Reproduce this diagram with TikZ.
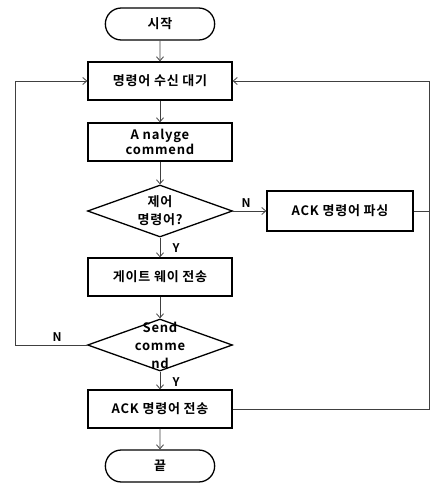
\documentclass[tikz,border=0pt]{standalone}
\usepackage{fontspec}
\setmainfont{Noto Sans CJK KR}[BoldFont={Noto Sans CJK KR Bold},LetterSpace=6]
\usetikzlibrary{shapes.geometric,shapes.misc,arrows.meta}

\begin{document}
\begin{tikzpicture}[x=1pt,y=-1pt,
        font=\bfseries\fontsize{13}{15}\selectfont,
        box/.style={draw,line width=1.3pt,minimum width=144pt,minimum height=38pt,align=center,inner sep=2pt},
        term/.style={draw,rounded rectangle,line width=1.3pt,minimum width=116pt,minimum height=32pt},
        dec/.style={draw,diamond,line width=1.3pt,minimum width=145pt,minimum height=52pt,inner sep=0pt},
        dectext/.style={align=center,font=\bfseries\fontsize{13}{18}\selectfont},
        flow/.style={draw=black!75,line width=0.8pt,-{Straight Barb[length=4pt,width=7pt]}},
        link/.style={draw=black!75,line width=0.8pt},
        yn/.style={font=\bfseries\fontsize{12}{13}\selectfont}]
                \useasboundingbox (0,0) rectangle (430,488);
                \node[term] (start) at (160,24) {시작};
                \node[box] (wait) at (160,81) {명령어 수신 대기};
                \node[box] (anal) at (160,142) {A nalyge\\commend};
                \node[dec] (ctrl) at (160,211) {};
                \node[dectext] (ctrlt) at (ctrl) {제어\\명령어?};
                \node[box,minimum width=146pt,minimum height=40pt] (parse) at (340,211) {ACK 명령어 파싱};
                \node[box] (gw) at (160,277) {게이트 웨이 전송};
                \node[dec] (send) at (160,345) {};
                \node[dectext] (sendt) at (send) {Send\\comme\\nd};
                \node[box] (ack) at (160,409) {ACK 명령어 전송};
                \node[term] (end) at (160,466) {끝};
                \coordinate (lft) at (15,81);
                \coordinate (rgt) at (429,81);
                % main flow
                \draw[flow] (start) -- (wait);
                \draw[flow] (wait) -- (anal);
                \draw[flow] (anal) -- (ctrl);
                \draw[flow] (ctrl) -- (gw);
                \draw[flow] (ctrl) -- (parse);
                \draw[flow] (gw) -- (send);
                \draw[flow] (send) -- (ack);
                \draw[flow] (ack) -- (end);
                % loops back
                \draw[flow] (send.west) -| (lft) -- (wait.west);
                \draw[link] (parse.east) -| (rgt);
                \draw[link] (ack.east) -| (rgt);
                \draw[flow] (rgt) -- (wait.east);
                \node[yn] (ctrln) at (246,203) {N};
                \node[yn] (ctrly) at (176,248) {Y};
                \node[yn] (sendn) at (57,337) {N};
                \node[yn] (sendy) at (176,382) {Y};
\end{tikzpicture}
\end{document}
